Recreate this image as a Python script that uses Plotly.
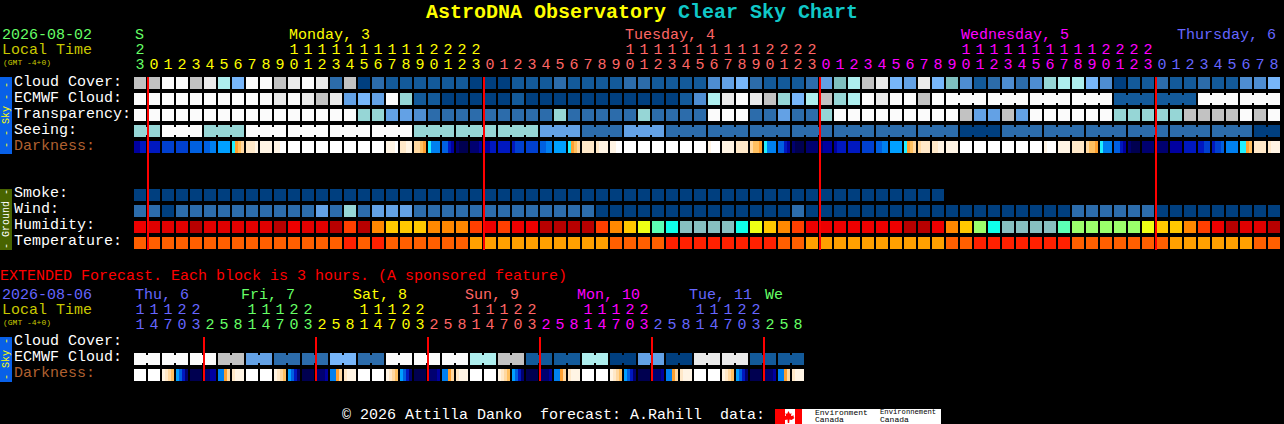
import plotly.graph_objects as go

# level colours, blue (clear) to white (overcast)
sky_colors = ['#003f7f', '#135a9a', '#2c6cab', '#4e8dd1', '#63a1e5', '#77b6fa',
              '#7fbfbf', '#96d6d6', '#aeeeee', '#c2c2c2', '#eaeaea', '#fbfbfb']
humidity_colors = ['#87c0c0', '#0fffea', '#5cffb5', '#9bff6b', '#eeff15', '#ffc800',
                   '#ff8800', '#ff3f00', '#ee0000', '#e00000', '#b80000']
temp_colors = ['#ff2000', '#ff5f00', '#ffa000']
dark_colors = ['#000050', '#000070', '#0000a0', '#0018c0', '#0040d0', '#0060e0', '#0080f0',
               '#00a0ff', '#20f0ff', '#ffa030', '#ffc060', '#ffd8a0', '#ffe8c8', '#fff4e4', '#ffffff']

main_hours = [23, 0, 1, 2, 3, 4, 5, 6, 7, 8, 9, 10, 11, 12, 13, 14, 15, 16, 17, 18, 19, 20, 21, 22, 23,
              0, 1, 2, 3, 4, 5, 6, 7, 8, 9, 10, 11, 12, 13, 14, 15, 16, 17, 18, 19, 20, 21, 22, 23,
              0, 1, 2, 3, 4, 5, 6, 7, 8, 9, 10, 11, 12, 13, 14, 15, 16, 17, 18, 19, 20, 21, 22, 23,
              0, 1, 2, 3, 4, 5, 6, 7, 8]
main_day_lengths = [1, 24, 24, 24, 9]
main_day_names = ['S', 'Monday, 3', 'Tuesday, 4', 'Wednesday, 5', 'Thursday, 6']

cloud = [9, 9, 11, 11, 9, 10, 8, 5, 11, 11, 9, 10, 11, 10, 2, 9, 0, 2, 1, 1, 1,
         1, 1, 1, 0, 0, 0, 1, 1, 1, 2, 1, 1, 1, 1, 2, 2, 1, 1, 1, 1,
         3, 4, 5, 2, 1, 1, 1, 2, 4, 6, 8, 9, 10, 5, 4, 10, 5, 6, 3, 1,
         2, 3, 2, 3, 7, 8, 8, 5, 3, 0, 1, 1, 2, 1, 1, 2, 1, 1, 3, 3, 5]
ecmwf = [11, 11, 11, 11, 11, 11, 11, 11, 11, 11, 10, 11, 10, 9, 10, 4, 5, 4, 11, 7, 1,
         1, 0, 0, 0, 0, 0, 1, 0, 0, 0, 0, 0, 0, 0, 0, 0, 0, 0, 1, 3,
         8, 10, 11, 10, 9, 7, 5, 8, 9, 7, 8, 11, 10, 11, 11, 9, 11,
         11, 11, 11, 11, 11, 11, 11, 11, 11, 11, 11, 11, 1, 1, 1, 1, 1, 1, 11, 11, 11, 11, 11, 11]
ecmwf_blocks = [1] * 58 + [3] * 8
transparency = [11, 11, 11, 11, 11, 11, 11, 11, 11, 11, 11, 11, 11, 11, 11, 11, 7, 7, 4, 4, 3,
                2, 2, 2, 2, 2, 2, 2, 2, 2, 7, 2, 2, 2, 2, 2, 7, 2, 2, 2, 2,
                11, 11, 11, 2, 2, 4, 2, 2, 7, 11, 11, 11, 11, 11, 11, 11, 11, 11, 9, 4,
                4, 9, 4, 11, 11, 11, 11, 11, 11, 7, 7, 7, 7, 7, 9, 9, 9, 9, 11, 9, 11]
seeing_levels = [7, 11, 7, 11, 11, 11, 11, 7, 7, 7, 4, 2, 4, 2, 2, 2, 2, 2, 2, 2, 0, 2, 2, 2, 2, 2, 2, 0]
seeing_blocks = [2] + [3] * 26 + [2]
# four samples per hour, the sky changes inside a block at dawn and dusk
darkness = [[2, 2, 3, 3], [3, 3, 3, 3], [4, 4, 4, 4], [4, 4, 4, 4], [5, 5, 5, 5], [5, 5, 6, 6], [7, 7, 7, 7],
            [8, 9, 10, 11], [12, 12, 12, 13], [13, 13, 13, 13], [13, 13, 14, 14], [14, 14, 14, 14],
            [14, 14, 14, 14], [14, 14, 14, 14], [14, 14, 14, 14], [14, 14, 14, 14], [14, 14, 14, 14],
            [14, 14, 14, 14], [13, 13, 13, 14], [12, 12, 13, 13], [11, 11, 10, 9], [8, 6, 6, 6],
            [5, 5, 3, 2], [1, 0, 0, 0], [1, 1, 1, 2],
            [2, 2, 3, 3], [3, 3, 3, 3], [3, 4, 4, 4], [4, 4, 4, 4], [5, 5, 6, 6], [7, 7, 7, 7],
            [8, 9, 10, 11], [12, 12, 12, 12], [12, 13, 13, 13], [13, 13, 14, 14], [14, 14, 14, 14],
            [14, 14, 14, 14], [14, 14, 14, 14], [14, 14, 14, 14], [14, 14, 14, 14], [14, 14, 14, 14],
            [13, 14, 14, 14], [13, 13, 13, 13], [12, 12, 12, 12], [11, 10, 10, 9], [8, 6, 6, 6],
            [5, 5, 3, 2], [1, 0, 0, 0], [1, 1, 1, 1],
            [1, 2, 2, 2], [2, 3, 3, 3], [3, 3, 3, 3], [4, 4, 4, 4], [5, 5, 6, 6], [7, 7, 7, 7],
            [8, 9, 10, 11], [11, 12, 12, 12], [12, 12, 13, 13], [13, 13, 13, 13], [14, 14, 14, 14],
            [14, 14, 14, 14], [14, 14, 14, 14], [14, 14, 14, 14], [14, 14, 14, 14], [14, 14, 14, 14],
            [13, 14, 14, 14], [13, 13, 13, 13], [12, 12, 12, 12], [11, 10, 10, 9], [8, 6, 6, 6],
            [5, 5, 3, 2], [1, 0, 0, 0], [1, 1, 1, 1],
            [1, 1, 1, 1], [2, 2, 2, 2], [3, 3, 3, 3], [3, 3, 4, 4], [3, 4, 4, 5], [6, 6, 6, 6],
            [8, 8, 9, 10], [12, 12, 12, 12], [12, 13, 13, 13]]

smoke = [0] * 58 + [None] * 24
wind = [2, 2, 0, 2, 2, 2, 2, 2, 2, 2, 2, 2, 2, 4, 2, 7, 2, 4, 4, 4, 2,
        2, 2, 2, 2, 2, 2, 2, 2, 2, 2, 2, 2, 0, 0, 0, 0, 0, 0, 0, 0,
        0, 0, 0, 0, 0, 0, 2, 0, 0, 0, 0, 0, 0, 0, 0, 0, 0, 0, 0, 0,
        0, 0, 0, 0, 0, 0, 2, 2, 2, 2, 2, 2, 0, 0, 0, 0, 0, 0, 0, 0, 0]
humidity = [8, 9, 9, 9, 10, 9, 9, 9, 9, 9, 10, 8, 9, 9, 10, 7, 10, 6, 5, 5, 5,
            6, 6, 6, 7, 8, 7, 8, 8, 10, 10, 10, 10, 7, 6, 5, 4, 2, 1, 0, 0,
            0, 0, 1, 4, 5, 6, 7, 8, 8, 8, 8, 8, 8, 8, 10, 10, 8, 6, 5, 3,
            1, 0, 0, 0, 0, 2, 3, 3, 3, 3, 3, 4, 5, 5, 6, 7, 8, 10, 9, 9, 10]
temperature = [1, 1, 1, 1, 1, 1, 1, 1, 1, 1, 1, 1, 1, 1, 1, 0, 1, 0, 1, 1, 1,
               1, 1, 1, 2, 2, 2, 2, 2, 2, 2, 2, 2, 2, 1, 1, 1, 1, 0, 0, 0,
               0, 0, 0, 0, 0, 1, 1, 2, 2, 2, 2, 2, 2, 2, 2, 2, 2, 1, 1, 0,
               0, 0, 0, 0, 0, 0, 1, 1, 1, 1, 1, 1, 1, 2, 2, 2, 2, 2, 2, 1, 1]

# extended forecast
ext_hours = [11, 14, 17, 20, 23, 2, 5, 8, 11, 14, 17, 20, 23, 2, 5, 8, 11, 14, 17, 20, 23, 2, 5, 8,
             11, 14, 17, 20, 23, 2, 5, 8, 11, 14, 17, 20, 23, 2, 5, 8, 11, 14, 17, 20, 23, 2, 5, 8]
ext_day_lengths = [5, 8, 8, 8, 8, 8, 3]
ext_day_names = ['Thu, 6', 'Fri, 7', 'Sat, 8', 'Sun, 9', 'Mon, 10', 'Tue, 11', 'We']
ext_ecmwf = [11, 11, 11, 9, 4, 2, 2, 5, 2, 11, 11, 11, 8, 9, 1, 1, 8, 0, 4, 0, 10, 10, 1, 1]
ext_darkness = [[14, 14, 14, 14], [14, 14, 14, 14], [13, 12, 11, 10], [7, 5, 3, 1], [0, 0, 0, 0], [1, 1, 2, 2], [6, 6, 9, 11], [12, 13, 13, 13],
                [14, 14, 14, 14], [14, 14, 14, 14], [13, 12, 11, 10], [7, 5, 3, 1], [0, 0, 0, 0], [1, 1, 1, 2], [6, 6, 9, 11], [12, 13, 13, 13],
                [14, 14, 14, 14], [14, 14, 14, 14], [13, 12, 11, 10], [7, 5, 3, 1], [0, 0, 0, 0], [1, 1, 1, 2], [6, 6, 9, 11], [12, 13, 13, 13],
                [14, 14, 14, 14], [14, 14, 14, 14], [13, 12, 11, 10], [7, 5, 3, 1], [0, 0, 0, 0], [1, 1, 1, 2], [6, 6, 9, 11], [12, 13, 13, 13],
                [14, 14, 14, 14], [14, 14, 14, 14], [13, 12, 11, 10], [7, 5, 3, 1], [0, 0, 0, 0], [1, 1, 1, 2], [6, 6, 9, 11], [12, 13, 13, 13],
                [14, 14, 14, 14], [14, 14, 14, 14], [13, 12, 11, 10], [7, 5, 3, 1], [0, 0, 0, 0], [1, 1, 1, 2], [6, 6, 9, 11], [12, 13, 13, 13]]

MONO = 'Liberation Mono'
GREEN, YELLOW, SALMON, MAGENTA, PERI = '#66ff66', '#ffff00', '#ff6666', '#ff00ff', '#6666ff'
main_day_colors = [GREEN, YELLOW, SALMON, MAGENTA, PERI]
ext_day_colors = [PERI, GREEN, YELLOW, SALMON, MAGENTA, PERI, GREEN]


# the chart is laid out on a pixel grid, one column is 14px and one row 16px
def col_x(px):
    return (px - 140) / 14


def row_y(py):
    return (py - 83) / 16


def scale(colors):
    return [[i / (len(colors) - 1), c] for i, c in enumerate(colors)]


fig = go.Figure()


def add_row(values, colors, py, blocks=None):
    r = row_y(py)
    fig.add_trace(go.Heatmap(x=list(range(len(values))), y=[r - 0.5, r + 0.5], z=[values],
                             colorscale=scale(colors), zmin=0, zmax=len(colors) - 1,
                             xgap=2, ygap=4, showscale=False, hoverinfo='skip'))
    if blocks is None:
        return
    # blocks of the same forecast step are joined by a short bridge over the gap
    bridges = [None] * (len(values) - 1)
    start = 0
    for length in blocks:
        for i in range(start, start + length - 1):
            bridges[i] = values[i]
        start += length
    fig.add_trace(go.Heatmap(x=[i + 0.5 for i in range(len(bridges))], y=[r - 0.5, r + 0.5], z=[bridges],
                             colorscale=scale(colors), zmin=0, zmax=len(colors) - 1,
                             xgap=12, ygap=8, showscale=False, hoverinfo='skip'))


def add_darkness(samples, py):
    r = row_y(py)
    edges, z = [], []
    for i, cell in enumerate(samples):
        for k, v in enumerate(cell):
            edges.append(i + (3 * k - 6) / 14)
            z.append(v)
        edges.append(i + 6 / 14)
        z.append(None)
    edges.append(len(samples) - 1 + 8 / 14)
    fig.add_trace(go.Heatmap(x=edges, y=[r - 0.375, r + 0.375], z=[z],
                             colorscale=scale(dark_colors), zmin=0, zmax=len(dark_colors) - 1,
                             showscale=False, hoverinfo='skip'))


def add_hours(hours, lengths, colors, py_tens, py_units):
    col_colors = []
    for n, c in zip(lengths, colors):
        col_colors += [c] * n
    xs = list(range(len(hours)))
    tens = [str(h // 10) if h >= 10 else '' for h in hours]
    units = [str(h % 10) for h in hours]
    for text, py in ((tens, py_tens), (units, py_units)):
        fig.add_trace(go.Scatter(x=xs, y=[row_y(py)] * len(xs), text=text, mode='text',
                                 textposition='middle center',
                                 textfont=dict(family=MONO, size=15, color=col_colors),
                                 hoverinfo='skip'))


def note(text, px, py, color='#ffffff', size=15, bold=False, angle=0, center=False):
    fig.add_annotation(x=col_x(px), y=row_y(py), text=text, showarrow=False, textangle=angle,
                       xanchor='center' if center else 'left', yanchor='middle', borderpad=0, borderwidth=0,
                       font=dict(family=MONO, size=size, color=color, weight='bold' if bold else 'normal'))


def box(x0, y0, x1, y1, color):
    fig.add_shape(type='rect', x0=col_x(x0), x1=col_x(x1), y0=row_y(y0), y1=row_y(y1),
                  fillcolor=color, line_width=0)


# rows of the hourly chart
add_row(cloud, sky_colors, 83)
add_row(ecmwf, sky_colors, 99, ecmwf_blocks)
add_row(transparency, sky_colors, 115)
seeing = []
for level, length in zip(seeing_levels, seeing_blocks):
    seeing += [level] * length
add_row(seeing, sky_colors, 131, seeing_blocks)
add_darkness(darkness, 147)
add_row(smoke, sky_colors, 195)
add_row(wind, sky_colors, 211)
add_row(humidity, humidity_colors, 227)
add_row(temperature, temp_colors, 243)

# extended rows, each 6 hour block is two columns wide
ext_cols = []
for level in ext_ecmwf:
    ext_cols += [level, level]
add_row(ext_cols, sky_colors, 359, [2] * 24)
add_darkness(ext_darkness, 375)

add_hours(main_hours, main_day_lengths, main_day_colors, 50, 65)
add_hours(ext_hours, ext_day_lengths, ext_day_colors, 310, 325)

# midnight lines, filled so they stay a clean 2px
for px in [148, 484, 820, 1156]:
    box(px - 1, 77, px + 1, 250, '#ff0000')
for px in [204, 316, 428, 540, 652, 764]:
    box(px - 1, 337, px + 1, 381, '#ff0000')

# side bars
box(0, 77, 12, 154, '#0860e8')
box(0, 189, 12, 250, '#486400')
box(0, 337, 12, 382, '#0860e8')
note('- - Sky - -', 6, 115, YELLOW, size=10, angle=-90, center=True)
note('- Ground -', 6, 219, '#ffffff', size=10, angle=-90, center=True)
note('- Sky -', 6, 359, YELLOW, size=10, angle=-90, center=True)

# title and headers
note('AstroDNA Observatory', 426, 12, YELLOW, size=20, bold=True)
note('Clear Sky Chart', 678, 12, '#10c8c8', size=20, bold=True)
note('2026-08-02', 2, 35, GREEN)
note('Local Time', 2, 50, '#c8c800')
note('(GMT -4+0)', 3, 62, '#c8c800', size=8)
for name, px, color in zip(main_day_names, [135, 289, 625, 961, 1177], main_day_colors):
    note(name, px, 35, color)

for name, py in zip(['Cloud Cover:', 'ECMWF Cloud:', 'Transparency:', 'Seeing:'], [82, 98, 114, 130]):
    note(name, 14, py)
note('Darkness:', 14, 146, '#b06030')
for name, py in zip(['Smoke:', 'Wind:', 'Humidity:', 'Temperature:'], [193, 209, 225, 241]):
    note(name, 14, py)

note('EXTENDED Forecast. Each block is 3 hours. (A sponsored feature)', 0, 276, '#ff0000')
note('2026-08-06', 2, 295, PERI)
note('Local Time', 2, 310, '#c8c800')
note('(GMT -4+0)', 3, 322, '#c8c800', size=8)
for name, px, color in zip(ext_day_names, [135, 241, 353, 465, 577, 689, 765], ext_day_colors):
    note(name, px, 295, color)
note('Cloud Cover:', 14, 341)
note('ECMWF Cloud:', 14, 357)
note('Darkness:', 14, 373, '#b06030')

# footer and logo
note('© 2026 Attilla Danko  forecast: A.Rahill  data:', 342, 415)
box(775, 409, 941, 424, '#ffffff')
box(775, 409, 785, 424, '#ff0000')
box(795, 409, 802, 424, '#ff0000')
leaf = [(0, -6), (1.5, -3), (3, -4), (2.5, -1), (5.5, -1.5), (5, 0), (6, 1), (3, 3), (1, 2.5), (0.7, 6),
        (-0.7, 6), (-1, 2.5), (-3, 3), (-6, 1), (-5, 0), (-5.5, -1.5), (-2.5, -1), (-3, -4), (-1.5, -3)]
path = 'M' + ' L'.join(f'{col_x(788.5 + a)},{row_y(417 + b)}' for a, b in leaf) + ' Z'
fig.add_shape(type='path', path=path, fillcolor='#ff0000', line_width=0)
note('Environment', 815, 412, '#000000', size=8)
note('Canada', 815, 419, '#000000', size=8)
note('Environnement', 880, 412, '#000000', size=7.2)
note('Canada', 880, 419, '#000000', size=8)

fig.update_layout(
    width=1284, height=424, margin=dict(l=0, r=0, t=0, b=0, pad=0),
    paper_bgcolor='#000000', plot_bgcolor='#000000', showlegend=False,
    xaxis=dict(visible=False, range=[col_x(0), col_x(1284)], fixedrange=True),
    yaxis=dict(visible=False, range=[row_y(424), row_y(0)], fixedrange=True),
)

fig.write_html("out.html", config=dict(displayModeBar=False),
               post_script="document.body.style.margin='0';document.body.style.background='#000';document.body.style.overflow='hidden';")
